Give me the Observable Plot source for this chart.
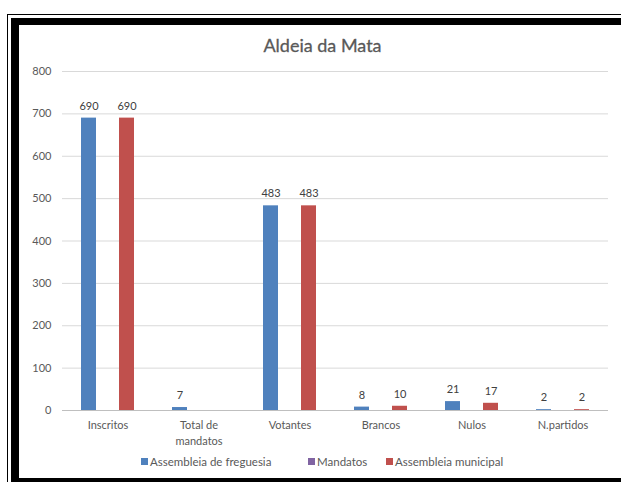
<!DOCTYPE html>
<html>
<head>
<meta charset="utf-8">
<script src="https://cdn.jsdelivr.net/npm/d3@7"></script>
<script src="https://cdn.jsdelivr.net/npm/@observablehq/plot@0.6"></script>
<style>
  html, body { margin: 0; padding: 0; background: #fff; overflow: hidden; }
  body { width: 621px; height: 482px; position: relative; font-family: Lato, "Liberation Sans", sans-serif; }
  #thin { position: absolute; left: 7px; top: 14px; width: 700px; height: 600px; border: 1px solid #000; }
  #thick { position: absolute; left: 11px; top: 18px; width: 700px; height: 453px; border-left: 8px solid #000; border-top: 7px solid #000; border-bottom: 8px solid #000; }
  #title { position: absolute; left: 0; width: 645px; top: 34px; text-align: center; font-size: 18px; color: #595959; -webkit-text-stroke: 0.3px #595959; }
  #chart { position: absolute; left: 0; top: 0; }
  #legend { position: absolute; top: 455px; left: 141px; font-size: 11.5px; color: #595959; white-space: nowrap; }
  .item { position: absolute; top: 0; line-height: 14px; }
  .sw { display: inline-block; width: 7px; height: 7px; margin-right: 2px; vertical-align: 1px; }
</style>
</head>
<body>
<div id="thin"></div>
<div id="thick"></div>
<div id="chart"></div>
<div id="title">Aldeia da Mata</div>
<div id="legend"></div>
<script>
const categories = ["Inscritos", "Total de\nmandatos", "Votantes", "Brancos", "Nulos", "N.partidos"];
const seriesNames = ["Assembleia de freguesia", "Mandatos", "Assembleia municipal"];
const seriesColors = ["#4F81BD", "#8064A2", "#C0504D"];
const freguesia = [690, 7, 483, 8, 21, 2];
const mandatos = [null, null, null, null, null, null];
const municipal = [690, null, 483, 10, 17, 2];
const yTicks = [0, 100, 200, 300, 400, 500, 600, 700, 800];

const seriesValues = [freguesia, mandatos, municipal];
const rows = [];
categories.forEach((c, i) => {
  seriesNames.forEach((s, j) => {
    const v = seriesValues[j][i];
    if (v != null) rows.push({category: c, series: s, value: v});
  });
});

const chart = Plot.plot({
  width: 621,
  height: 482,
  marginLeft: 61,
  marginRight: 12,
  marginTop: 71,
  marginBottom: 72,
  style: {fontFamily: "Lato, 'Liberation Sans', sans-serif", fontSize: "11px", color: "#595959", background: "transparent"},
  fx: {domain: categories, padding: 0, label: null},
  x: {domain: seriesNames, axis: null, paddingInner: 0.2, paddingOuter: 0.88},
  y: {domain: [0, 800], label: null},
  color: {domain: seriesNames, range: seriesColors},
  marks: [
    Plot.gridY(yTicks.filter(d => d > 0), {stroke: "#d9d9d9", strokeOpacity: 1}),
    Plot.ruleY([0], {stroke: "#bfbfbf"}),
    Plot.axisY(yTicks, {anchor: "left", tickSize: 0, tickPadding: 11, label: null}),
    Plot.axisFx({anchor: "bottom", tickSize: 0, tickPadding: 8, lineHeight: 1.4, label: null}),
    Plot.barY(rows, {fx: "category", x: "series", y: "value", fill: "series"}),
    Plot.text(rows, {fx: "category", x: "series", y: "value", text: d => String(d.value), dy: -12, fill: "#404040"})
  ]
});
document.getElementById("chart").appendChild(chart);

const legend = document.getElementById("legend");
const lefts = [0, 167, 245];
seriesNames.forEach((s, i) => {
  const it = document.createElement("div");
  it.className = "item";
  it.style.left = lefts[i] + "px";
  it.innerHTML = `<span class="sw" style="background:${seriesColors[i]}"></span>${s}`;
  legend.appendChild(it);
});
</script>
</body>
</html>
